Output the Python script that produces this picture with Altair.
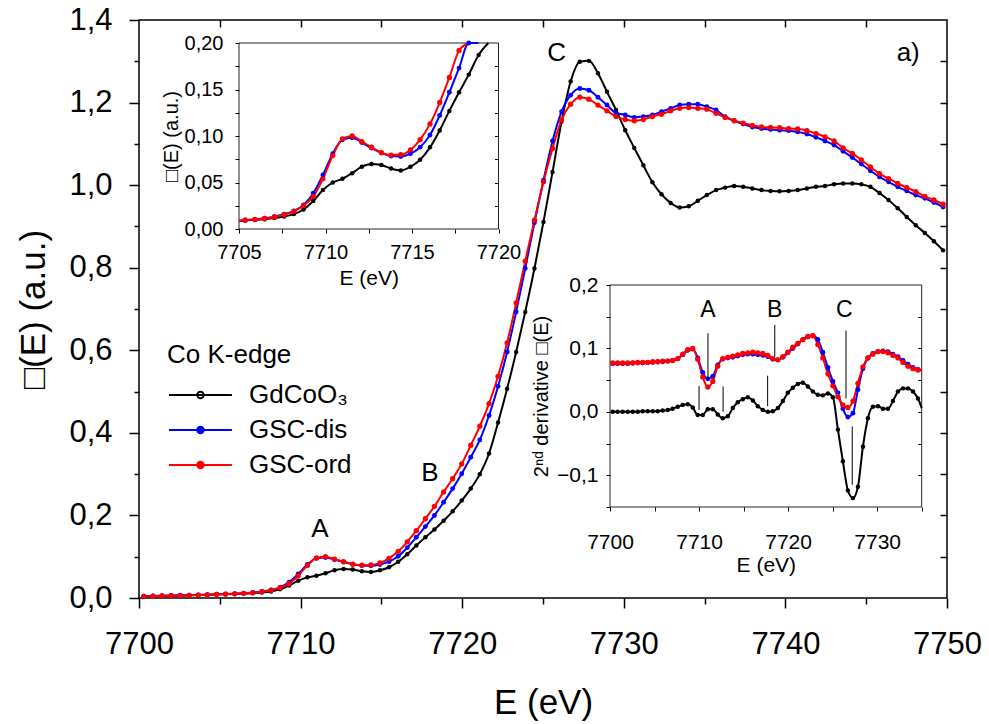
import altair as alt
import pandas as pd

FONT = "Liberation Sans"

# ---------------- data ----------------
SERIES = ["GdCoO\u2083", "GSC-dis", "GSC-ord"]
SERIES_COLORS = ["#000000", "#0000ff", "#ff0000"]
LEGEND_FILLS = ["#ffffff", "#0000ff", "#ff0000"]
DOT_SIZES = [20, 28, 36]

E = [7700.30, 7700.86, 7701.42, 7701.99, 7702.55, 7703.11, 7703.67, 7704.23, 7704.80, 7705.36,
     7705.92, 7706.48, 7707.04, 7707.61, 7708.17, 7708.73, 7709.29, 7709.85, 7710.42, 7710.98,
     7711.54, 7712.10, 7712.66, 7713.23, 7713.79, 7714.35, 7714.91, 7715.47, 7716.04, 7716.60,
     7717.16, 7717.72, 7718.28, 7718.85, 7719.41, 7719.97, 7720.53, 7721.09, 7721.66, 7722.22,
     7722.78, 7723.34, 7723.90, 7724.47, 7725.03, 7725.59, 7726.15, 7726.71, 7727.28, 7727.84,
     7728.40, 7728.96, 7729.52, 7730.09, 7730.65, 7731.21, 7731.77, 7732.33, 7732.90, 7733.46,
     7734.02, 7734.58, 7735.14, 7735.71, 7736.27, 7736.83, 7737.39, 7737.95, 7738.52, 7739.08,
     7739.64, 7740.20, 7740.76, 7741.33, 7741.89, 7742.45, 7743.01, 7743.57, 7744.14, 7744.70,
     7745.26, 7745.82, 7746.38, 7746.95, 7747.51, 7748.07, 7748.63, 7749.19, 7749.76]

MU_GDCOO3 = [0.004, 0.0045, 0.005, 0.0055, 0.006, 0.0065, 0.007, 0.0078, 0.0085, 0.0092,
             0.0098, 0.0106, 0.0118, 0.0135, 0.016, 0.021, 0.030, 0.042, 0.050, 0.054,
             0.060, 0.067, 0.070, 0.0688, 0.065, 0.063, 0.067, 0.0745, 0.0878, 0.106,
             0.127, 0.147, 0.166, 0.187, 0.210, 0.236, 0.265, 0.300, 0.350, 0.425,
             0.507, 0.596, 0.693, 0.798, 0.911, 1.032, 1.154, 1.251, 1.299, 1.301,
             1.271, 1.226, 1.182, 1.133, 1.090, 1.048, 1.007, 0.978, 0.957, 0.946,
             0.949, 0.962, 0.976, 0.988, 0.994, 0.998, 0.996, 0.992, 0.988, 0.986,
             0.985, 0.986, 0.988, 0.992, 0.996, 0.998, 1.002, 1.004, 1.004, 1.002,
             0.996, 0.981, 0.964, 0.944, 0.923, 0.903, 0.884, 0.864, 0.842]

MU_DIS = [0.0045, 0.005, 0.0055, 0.006, 0.0065, 0.007, 0.0075, 0.008, 0.009, 0.0097,
          0.0104, 0.0115, 0.0133, 0.0158, 0.0194, 0.0258, 0.0384, 0.058, 0.081, 0.096,
          0.098, 0.093, 0.087, 0.082, 0.0785, 0.078, 0.081, 0.088, 0.101, 0.122,
          0.147, 0.173, 0.200, 0.232, 0.265, 0.301, 0.341, 0.383, 0.442, 0.513,
          0.596, 0.693, 0.798, 0.909, 1.012, 1.107, 1.178, 1.218, 1.234, 1.230,
          1.213, 1.194, 1.175, 1.170, 1.164, 1.166, 1.170, 1.178, 1.186, 1.194,
          1.196, 1.196, 1.190, 1.182, 1.166, 1.156, 1.148, 1.141, 1.137, 1.135,
          1.133, 1.132, 1.129, 1.124, 1.116, 1.107, 1.097, 1.082, 1.067, 1.051,
          1.035, 1.020, 1.008, 0.996, 0.986, 0.976, 0.968, 0.958, 0.947]

MU_ORD = [0.004, 0.0045, 0.005, 0.0055, 0.006, 0.0065, 0.007, 0.0078, 0.0086, 0.0095,
          0.0102, 0.0113, 0.013, 0.0155, 0.019, 0.025, 0.035, 0.054, 0.079, 0.097,
          0.100, 0.094, 0.088, 0.082, 0.0795, 0.080, 0.085, 0.096, 0.113, 0.136,
          0.163, 0.192, 0.222, 0.257, 0.289, 0.325, 0.370, 0.416, 0.471, 0.537,
          0.618, 0.715, 0.816, 0.915, 1.008, 1.089, 1.158, 1.196, 1.213, 1.208,
          1.194, 1.180, 1.166, 1.159, 1.156, 1.159, 1.166, 1.172, 1.180, 1.186,
          1.188, 1.186, 1.184, 1.174, 1.164, 1.156, 1.150, 1.145, 1.141, 1.140,
          1.139, 1.137, 1.136, 1.132, 1.125, 1.117, 1.107, 1.090, 1.077, 1.061,
          1.044, 1.028, 1.016, 1.004, 0.994, 0.984, 0.973, 0.964, 0.954]

# second derivative (inset b), same energy grid, first 63 points
D2_GDCOO3 = [0.000, 0.000, 0.000, 0.000, 0.000, 0.000, 0.001, 0.001, 0.001, 0.001,
             0.002, 0.003, 0.005, 0.008, 0.011, 0.012, 0.007, -0.005, -0.005, 0.004,
             0.004, -0.004, -0.010, -0.007, 0.006, 0.015, 0.020, 0.023, 0.018, 0.009,
             0.003, 0.000, 0.001, 0.006, 0.017, 0.030, 0.038, 0.044, 0.046, 0.040,
             0.032, 0.027, 0.026, 0.029, 0.023, -0.028, -0.078, -0.124, -0.136, -0.118,
             -0.055, -0.010, 0.008, 0.009, 0.005, 0.005, 0.017, 0.032, 0.037, 0.037,
             0.032, 0.021, 0.006]
D2_DIS = [0.076, 0.076, 0.076, 0.076, 0.077, 0.077, 0.077, 0.078, 0.078, 0.079,
          0.079, 0.080, 0.081, 0.084, 0.090, 0.097, 0.099, 0.085, 0.062, 0.052,
          0.056, 0.074, 0.083, 0.085, 0.086, 0.088, 0.090, 0.091, 0.091, 0.090,
          0.089, 0.087, 0.083, 0.082, 0.086, 0.093, 0.100, 0.107, 0.114, 0.118,
          0.120, 0.114, 0.094, 0.070, 0.048, 0.030, 0.005, -0.008, -0.002, 0.035,
          0.068, 0.085, 0.092, 0.095, 0.096, 0.095, 0.091, 0.087, 0.081, 0.075,
          0.070, 0.067, 0.066]
D2_ORD = [0.077, 0.077, 0.077, 0.077, 0.077, 0.078, 0.078, 0.078, 0.079, 0.079,
          0.080, 0.080, 0.081, 0.084, 0.091, 0.098, 0.100, 0.083, 0.055, 0.039,
          0.048, 0.072, 0.084, 0.086, 0.088, 0.090, 0.092, 0.093, 0.094, 0.093,
          0.092, 0.089, 0.084, 0.082, 0.087, 0.094, 0.102, 0.108, 0.114, 0.119,
          0.120, 0.106, 0.085, 0.060, 0.041, 0.024, 0.011, 0.007, 0.017, 0.045,
          0.071, 0.085, 0.091, 0.095, 0.095, 0.093, 0.089, 0.085, 0.078, 0.072,
          0.068, 0.066, 0.065]

MAIN_ANN_LABEL = ["A", "B", "C", "a)"]
MAIN_ANN_E = [7711.2, 7718.0, 7725.85, 7747.6]
MAIN_ANN_V = [0.168, 0.302, 1.319, 1.319]

IN2_LABEL = ["A", "B", "C"]
IN2_LABEL_E = [7711.0, 7718.5, 7726.3]
IN2_LABEL_V = [0.160, 0.160, 0.160]

RULE_E = [7711.0, 7718.5, 7726.5, 7710.0, 7712.7, 7717.7, 7727.2]
RULE_TOP = [0.124, 0.137, 0.128, 0.041, 0.040, 0.057, -0.023]
RULE_BOTTOM = [0.050, 0.087, 0.021, 0.003, 0.000, 0.009, -0.115]

MAIN_X = [7700, 7750]
MAIN_Y = [0, 1.4]
IN1_X = [7705, 7720]
IN1_Y = [0, 0.2]
IN2_X = [7700, 7735]
IN2_Y = [-0.15, 0.2]

MAIN_X_TICKS = [7700, 7705, 7710, 7715, 7720, 7725, 7730, 7735, 7740, 7745, 7750]
MAIN_Y_TICKS = [0.0, 0.1, 0.2, 0.3, 0.4, 0.5, 0.6, 0.7, 0.8, 0.9, 1.0, 1.1, 1.2, 1.3, 1.4]
IN1_X_TICKS = [7705, 7707.5, 7710, 7712.5, 7715, 7717.5, 7720]
IN1_Y_TICKS = [0.0, 0.025, 0.05, 0.075, 0.1, 0.125, 0.15, 0.175, 0.2]
IN2_X_TICKS = [7700, 7705, 7710, 7715, 7720, 7725, 7730, 7735]
IN2_Y_TICKS = [-0.15, -0.1, -0.05, 0.0, 0.05, 0.1, 0.15, 0.2]

# ---------------- layout (pixels) ----------------
W, H = 808, 578
IN1_XR = [100, 359.5]
IN1_YR = [209, 23]
IN2_XR = [471, 782.7]
IN2_YR = [487, 265]

MU_ALL = [MU_GDCOO3, MU_DIS, MU_ORD]
D2_ALL = [D2_GDCOO3, D2_DIS, D2_ORD]


def long_df(xs, ys_list, keep=None):
    rows = []
    for name, ys in zip(SERIES, ys_list):
        for i, (e, v) in enumerate(zip(xs, ys)):
            if keep is None or keep(i, e, v, ys):
                rows.append({"E": e, "v": v, "series": name})
    return pd.DataFrame(rows)


df_main = long_df(E, MU_ALL)


def in1_line_keep(i, e, v, ys):
    if e < IN1_X[0] - 0.6 or e > IN1_X[1] + 0.6:
        return False
    if i > 0 and ys[i - 1] > IN1_Y[1]:
        return False
    return True


def in1_point_keep(i, e, v, ys):
    return IN1_X[0] <= e <= IN1_X[1] and v <= IN1_Y[1]


df_in1_line = long_df(E, MU_ALL, in1_line_keep)
df_in1_pts = long_df(E, MU_ALL, in1_point_keep)
E_D2 = E[:len(D2_ORD)]
df_in2_line = long_df(E_D2, D2_ALL)
df_in2_pts = long_df(E_D2, D2_ALL, lambda i, e, v, ys: IN2_X[0] <= e <= IN2_X[1])

# data-derived domains (sorted as SERIES) so that they differ from the legend scales
color_enc = alt.Color("series:N", sort=SERIES, scale=alt.Scale(range=SERIES_COLORS), legend=None)
size_enc = alt.Size("series:N", sort=SERIES, scale=alt.Scale(range=DOT_SIZES), legend=None)


def comma(test, fmt):
    return f"{test} ? replace(format(datum.value, '{fmt}'), '.', ',') : ''"


def sc(domain, rng=None, clamp=False):
    kw = dict(domain=domain, nice=False, zero=False)
    if rng is not None:
        kw["range"] = rng
    if clamp:
        kw["clamp"] = True
    return alt.Scale(**kw)


# ---------------- main plot ----------------
main_x_axis = alt.Axis(
    orient="bottom", values=MAIN_X_TICKS, title="E (eV)",
    labelExpr="datum.value % 10 === 0 ? '' + datum.value : ''",
    tickSize={"condition": {"test": "datum.value % 10 === 0", "value": 10}, "value": 6},
    tickWidth=1.5, domain=False, labelFontSize=31, titleFontSize=35,
    labelPadding=21, titlePadding=26, labelFlush=False, labelOverlap=False)
main_y_axis = alt.Axis(
    orient="left", values=MAIN_Y_TICKS, title="\u25a1(E) (a.u.)",
    labelExpr=comma("round(datum.value * 10) % 2 === 0", ".1f"),
    tickSize={"condition": {"test": "round(datum.value * 10) % 2 === 0", "value": 10}, "value": 5},
    tickWidth=1.5, domain=False, labelFontSize=31, titleFontSize=35,
    labelPadding=17, titlePadding=17, labelOverlap=False)

main_lines = alt.Chart(df_main).mark_line(strokeWidth=2, interpolate="monotone").encode(
    x=alt.X("E:Q", scale=sc(MAIN_X), axis=main_x_axis),
    y=alt.Y("v:Q", scale=sc(MAIN_Y), axis=main_y_axis),
    color=color_enc,
)
main_pts = alt.Chart(df_main).mark_circle(opacity=1).encode(
    x=alt.X("E:Q", scale=sc(MAIN_X), axis=None),
    y=alt.Y("v:Q", scale=sc(MAIN_Y), axis=None),
    color=color_enc, size=size_enc,
)
main_inner_ticks = alt.Chart(df_main).mark_point(opacity=0).encode(
    x=alt.X("E:Q", scale=sc(MAIN_X), axis=alt.Axis(
        orient="top", offset=-7, values=MAIN_X_TICKS[1:-1], labels=False, domain=False,
        tickSize=7, tickWidth=1.5, title=None)),
    y=alt.Y("v:Q", scale=sc(MAIN_Y), axis=alt.Axis(
        orient="right", offset=-7, values=MAIN_Y_TICKS[1:-1], labels=False, domain=False,
        tickSize=7, tickWidth=1.5, title=None)),
)
main_ann = alt.Chart(pd.DataFrame({"E": MAIN_ANN_E, "v": MAIN_ANN_V, "t": MAIN_ANN_LABEL})).mark_text(
    fontSize=26, font=FONT, color="black").encode(
    x=alt.X("E:Q", scale=sc(MAIN_X), axis=None),
    y=alt.Y("v:Q", scale=sc(MAIN_Y), axis=None),
    text="t:N",
)

# legend symbol: a line with a dot, drawn wider than the nominal symbol box
LEG_SHAPE = "M-0.94,0L2.76,0M0.72,0A0.19,0.19,0,1,0,1.10,0A0.19,0.19,0,1,0,0.72,0Z"
leg = alt.Legend(
    title="Co K-edge", orient="none", legendX=28, legendY=322, direction="vertical",
    symbolType=LEG_SHAPE, symbolSize=1156, symbolStrokeWidth=2,
    symbolFillColor="white", symbolStrokeColor="black", symbolOpacity=1,
    labelFont=FONT, labelFontSize=26, labelColor="black",
    titleFont=FONT, titleFontSize=26, titleFontWeight="normal", titleColor="black",
    rowPadding=4, titlePadding=9, labelOffset=46, padding=0)
legend_layer = alt.Chart(pd.DataFrame({"series": SERIES})).mark_point(filled=True, opacity=0).encode(
    stroke=alt.Stroke("series:N", scale=alt.Scale(domain=SERIES, range=SERIES_COLORS), legend=leg),
    fill=alt.Fill("series:N", scale=alt.Scale(domain=SERIES, range=LEGEND_FILLS), legend=leg),
)

# ---------------- inset 1 (pre-edge zoom) ----------------
sx1 = lambda: sc(IN1_X, IN1_XR, clamp=True)
sy1 = lambda: sc(IN1_Y, IN1_YR, clamp=True)
in1_x_axis = alt.Axis(
    orient="bottom", offset=IN1_YR[0] - H, values=IN1_X_TICKS, title="E (eV)",
    labelExpr="datum.value % 5 === 0 ? '' + datum.value : ''",
    tickSize=4, domain=False, labelFontSize=20, titleFontSize=21,
    labelPadding=9, titlePadding=5, labelFlush=False, labelOverlap=False, zindex=1)
in1_y_axis = alt.Axis(
    orient="left", offset=-IN1_XR[0], values=IN1_Y_TICKS, title="\u25a1(E) (a.u.)",
    labelExpr=comma("round(datum.value * 1000) % 50 === 0", ".2f"),
    tickSize=4, domain=False, labelFontSize=20, titleFontSize=20,
    labelPadding=12, titlePadding=3, labelOverlap=False, zindex=1)

frame1_df = pd.DataFrame({"x0": [IN1_X[0]], "x1": [IN1_X[1]], "y0": [IN1_Y[0]], "y1": [IN1_Y[1]]})
in1_frame = alt.Chart(frame1_df).mark_rect(fill="white", stroke="#222222", strokeWidth=1).encode(
    x=alt.X("x0:Q", scale=sx1(), axis=in1_x_axis), x2="x1:Q",
    y=alt.Y("y0:Q", scale=sy1(), axis=in1_y_axis), y2="y1:Q",
)
in1_lines = alt.Chart(df_in1_line).mark_line(strokeWidth=2, interpolate="monotone").encode(
    x=alt.X("E:Q", scale=sx1(), axis=None),
    y=alt.Y("v:Q", scale=sy1(), axis=None),
    color=color_enc,
)
in1_pts = alt.Chart(df_in1_pts).mark_circle(opacity=1).encode(
    x=alt.X("E:Q", scale=sx1(), axis=None),
    y=alt.Y("v:Q", scale=sy1(), axis=None),
    color=color_enc, size=size_enc,
)
in1_right = alt.Chart(frame1_df).mark_point(opacity=0).encode(
    y=alt.Y("y0:Q", scale=sy1(), axis=alt.Axis(
        orient="right", offset=IN1_XR[1] - 4 - W, values=IN1_Y_TICKS[1:-1], labels=False,
        domain=False, tickSize=4, title=None, zindex=1)),
)

# ---------------- inset 2 (second derivative) ----------------
sx2 = lambda: sc(IN2_X, IN2_XR, clamp=True)
sy2 = lambda: sc(IN2_Y, IN2_YR, clamp=True)
in2_x_axis = alt.Axis(
    orient="bottom", offset=IN2_YR[0] - H, values=IN2_X_TICKS, title="E (eV)",
    labelExpr="datum.value % 10 === 0 ? '' + datum.value : ''",
    tickSize=4, domain=False, labelFontSize=21, titleFontSize=21,
    labelPadding=20, titlePadding=2, labelFlush=False, labelOverlap=False, zindex=1)
in2_y_axis = alt.Axis(
    orient="left", offset=-IN2_XR[0], values=IN2_Y_TICKS, title="2\u207f\u1d48 derivative \u25a1(E)",
    labelExpr=comma("abs(round(datum.value * 100)) % 10 === 0", ".1f"),
    tickSize=4, domain=False, labelFontSize=21, titleFontSize=20,
    labelPadding=8, titlePadding=5, labelOverlap=False, zindex=1)

frame2_df = pd.DataFrame({"x0": [IN2_X[0]], "x1": [IN2_X[1]], "y0": [IN2_Y[0]], "y1": [IN2_Y[1]]})
in2_frame = alt.Chart(frame2_df).mark_rect(fill="white", stroke="#222222", strokeWidth=1).encode(
    x=alt.X("x0:Q", scale=sx2(), axis=in2_x_axis), x2="x1:Q",
    y=alt.Y("y0:Q", scale=sy2(), axis=in2_y_axis), y2="y1:Q",
)
in2_lines = alt.Chart(df_in2_line).mark_line(strokeWidth=2, interpolate="monotone").encode(
    x=alt.X("E:Q", scale=sx2(), axis=None),
    y=alt.Y("v:Q", scale=sy2(), axis=None),
    color=color_enc,
)
in2_pts = alt.Chart(df_in2_pts).mark_circle(opacity=1).encode(
    x=alt.X("E:Q", scale=sx2(), axis=None),
    y=alt.Y("v:Q", scale=sy2(), axis=None),
    color=color_enc, size=size_enc,
)
in2_rules = alt.Chart(pd.DataFrame({"E": RULE_E, "a": RULE_TOP, "b": RULE_BOTTOM})).mark_rule(
    color="black", strokeWidth=1).encode(
    x=alt.X("E:Q", scale=sx2(), axis=None),
    y=alt.Y("a:Q", scale=sy2(), axis=None), y2="b:Q",
)
in2_labels = alt.Chart(pd.DataFrame({"E": IN2_LABEL_E, "v": IN2_LABEL_V, "t": IN2_LABEL})).mark_text(
    fontSize=23, font=FONT, color="black").encode(
    x=alt.X("E:Q", scale=sx2(), axis=None),
    y=alt.Y("v:Q", scale=sy2(), axis=None),
    text="t:N",
)
in2_right = alt.Chart(frame2_df).mark_point(opacity=0).encode(
    y=alt.Y("y0:Q", scale=sy2(), axis=alt.Axis(
        orient="right", offset=IN2_XR[1] - 4 - W, values=IN2_Y_TICKS[1:-1], labels=False,
        domain=False, tickSize=4, title=None, zindex=1)),
)

chart = alt.layer(
    main_lines, main_pts, main_inner_ticks, main_ann, legend_layer,
    in1_frame, in1_lines, in1_pts, in1_right,
    in2_frame, in2_lines, in2_pts, in2_rules, in2_labels, in2_right,
).resolve_scale(x="independent", y="independent").properties(
    width=W, height=H,
    padding={"left": 139, "top": 20, "right": 42, "bottom": 126},
    autosize=alt.AutoSizeParams(type="none"),
).configure(font=FONT).configure_view(
    stroke="black", strokeWidth=1.5
).configure_axis(
    grid=False, labelFont=FONT, titleFont=FONT, titleFontWeight="normal",
    labelColor="black", titleColor="black", tickColor="black", domainColor="black",
)

chart.save("out.html", embed_options={"renderer": "svg", "actions": False})
